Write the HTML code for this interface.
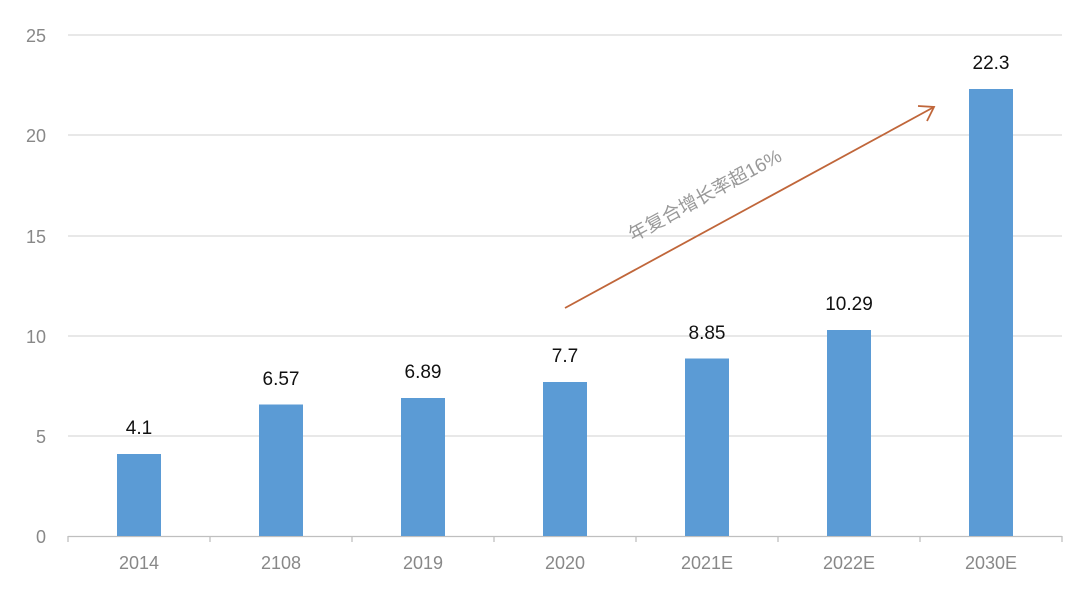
<!DOCTYPE html>
<html><head><meta charset="utf-8"><style>
html,body{margin:0;padding:0;background:#fff}
</style></head><body>
<svg width="1080" height="590" xmlns="http://www.w3.org/2000/svg" font-family="Liberation Sans, Noto Sans CJK SC, sans-serif">
<g stroke="#d9d9d9" stroke-width="1.3">
<line x1="68" y1="35" x2="1062" y2="35"/>
<line x1="68" y1="135" x2="1062" y2="135"/>
<line x1="68" y1="236" x2="1062" y2="236"/>
<line x1="68" y1="336" x2="1062" y2="336"/>
<line x1="68" y1="436" x2="1062" y2="436"/>
</g>
<line x1="68" y1="536.5" x2="1062" y2="536.5" stroke="#bfbfbf" stroke-width="1.3"/>
<g stroke="#bfbfbf" stroke-width="1.3">
<line x1="68" y1="536" x2="68" y2="542"/><line x1="210" y1="536" x2="210" y2="542"/><line x1="352" y1="536" x2="352" y2="542"/><line x1="494" y1="536" x2="494" y2="542"/><line x1="636" y1="536" x2="636" y2="542"/><line x1="778" y1="536" x2="778" y2="542"/><line x1="920" y1="536" x2="920" y2="542"/><line x1="1062" y1="536" x2="1062" y2="542"/>
</g>
<g fill="#888" font-size="18" text-anchor="end">
<text x="46" y="42">25</text><text x="46" y="142">20</text><text x="46" y="243">15</text><text x="46" y="343">10</text><text x="46" y="443">5</text><text x="46" y="543">0</text>
</g>
<g fill="#5b9bd5">
<rect x="117" y="454" width="44" height="82"/>
<rect x="259" y="404.5" width="44" height="131.5"/>
<rect x="401" y="398" width="44" height="138"/>
<rect x="543" y="382" width="44" height="154"/>
<rect x="685" y="358.5" width="44" height="177.5"/>
<rect x="827" y="330" width="44" height="206"/>
<rect x="969" y="89" width="44" height="447"/>
</g>
<g fill="#111" font-size="19" text-anchor="middle">
<text x="139" y="434">4.1</text><text x="281" y="385">6.57</text><text x="423" y="378">6.89</text><text x="565" y="362">7.7</text><text x="707" y="339">8.85</text><text x="849" y="310">10.29</text><text x="991" y="69">22.3</text>
</g>
<g fill="#888" font-size="18" text-anchor="middle">
<text x="139" y="569">2014</text><text x="281" y="569">2108</text><text x="423" y="569">2019</text><text x="565" y="569">2020</text><text x="707" y="569">2021E</text><text x="849" y="569">2022E</text><text x="991" y="569">2030E</text>
</g>
<line x1="565" y1="308" x2="934" y2="107" stroke="#c0663a" stroke-width="1.8"/>
<polyline points="918,106 934,107 927,121" fill="none" stroke="#c0663a" stroke-width="1.8"/>
<text x="708" y="201" fill="#999" font-size="19" text-anchor="middle" transform="rotate(-28.6 708 201)">年复合增长率超16%</text>
</svg>
</body></html>
